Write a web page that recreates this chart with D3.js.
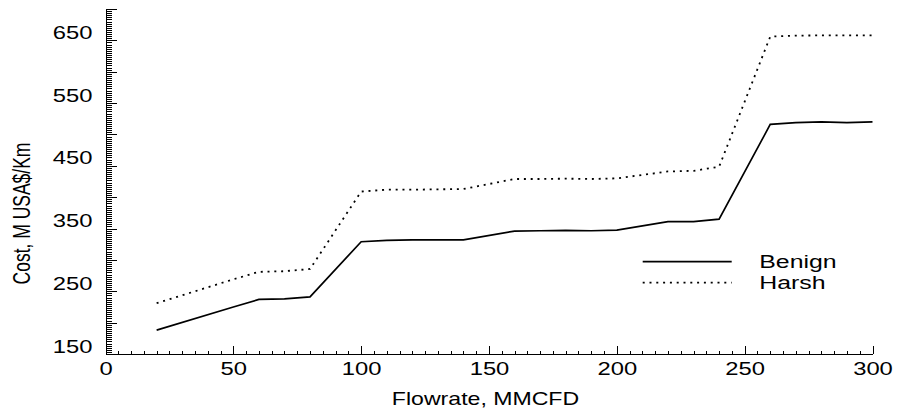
<!DOCTYPE html>
<html>
<head>
<meta charset="utf-8">
<script src="https://cdn.jsdelivr.net/npm/d3@7/dist/d3.min.js"></script>
<style>
  html, body { margin: 0; padding: 0; background: #fff; }
  svg { display: block; }
  text { font-family: "Liberation Sans", Arial, Helvetica, sans-serif; fill: #000; }
</style>
</head>
<body>
<svg id="chart" width="899" height="413"></svg>
<script>
// Pipeline cost versus flowrate, two environments
const flowrate = [20, 50, 60, 70, 80, 100, 110, 120, 130, 140, 160, 170, 180, 190, 200, 220, 230, 240, 260, 270, 280, 290, 300];
const benignCost = [188, 225, 237, 238, 241, 329, 331, 332, 332, 332, 346, 346.5, 347, 346.5, 347.5, 361, 361, 365, 516, 519, 520, 519, 520];
const harshCost  = [231, 269, 281, 282, 285.5, 409, 412, 412, 412.5, 413, 429, 429, 429.5, 429, 430, 441, 442, 448.5, 656, 657.5, 658, 658, 658];
const seriesNames = ["Benign", "Harsh"];
const xTickLabels = [0, 50, 100, 150, 200, 250, 300];
const yTickLabels = [150, 250, 350, 450, 550, 650];

const svg = d3.select("#chart");
const x = d3.scaleLinear().domain([0, 300]).range([105.5, 872.5]);
const y = d3.scaleLinear().domain([150, 700]).range([354, 9]);

// glyphs are drawn wide (horizontal stretch)
const STRETCH = 1.36;
const tickFont = 17.5;

// ---- x axis ----
const gx = svg.append("g").attr("transform", `translate(0,${y(150)})`);
gx.call(d3.axisBottom(x).tickValues(d3.range(0, 301, 5).filter(v => v % 50 !== 0))
  .tickSize(-3.5).tickFormat(""))
  .call(g => g.select(".domain").remove());
const gxMain = svg.append("g").attr("transform", `translate(0,${y(150)})`);
gxMain.call(d3.axisBottom(x).tickValues(xTickLabels).tickSize(-8.5).tickSizeOuter(0).tickFormat(d3.format("d")));
gxMain.selectAll(".tick text")
  .attr("y", 21).attr("dy", null)
  .attr("transform", `scale(${STRETCH},1)`)
  .style("font-size", tickFont + "px");

// ---- y axis ----
const yMinorVals = d3.range(0, 166).map(i => 150 + i * 10 / 3)
  .filter(v => v <= 700.01 && Math.abs(v / 50 - Math.round(v / 50)) > 1e-6);
const gyMinor = svg.append("g").attr("transform", `translate(${x(0)},0)`);
gyMinor.call(d3.axisLeft(y).tickValues(yMinorVals).tickSize(-6).tickFormat(""))
  .call(g => g.select(".domain").remove());
const gyMajor = svg.append("g").attr("transform", `translate(${x(0)},0)`);
gyMajor.call(d3.axisLeft(y).tickValues(d3.range(150, 701, 50)).tickSize(-11.5).tickSizeOuter(0).tickFormat(""));
const gyLab = svg.append("g").attr("transform", `translate(${x(0)},0)`);
gyLab.call(d3.axisLeft(y).tickValues(yTickLabels).tickSize(0).tickFormat(d3.format("d")))
  .call(g => g.select(".domain").remove());
gyLab.selectAll(".tick text")
  .attr("x", null).attr("dy", null)
  .attr("text-anchor", "end")
  .attr("transform", `translate(-13,-2) scale(${STRETCH},1)`)
  .style("font-size", tickFont + "px");

svg.selectAll(".domain, .tick line").attr("stroke", "#000").attr("stroke-width", 1)
  .attr("shape-rendering", "crispEdges");

// ---- axis titles ----
svg.append("text")
  .attr("text-anchor", "middle")
  .attr("transform", `translate(485.5,405) scale(1.32,1)`)
  .style("font-size", "17.5px")
  .text("Flowrate, MMCFD");
svg.append("text")
  .attr("text-anchor", "middle")
  .attr("transform", `translate(30,213.5) scale(1.35,1) rotate(-90)`)
  .style("font-size", "17.5px")
  .text("Cost, M USA$/Km");

// ---- series lines ----
const series = [
  { name: seriesNames[0], values: benignCost, dash: null, width: 1.7 },
  { name: seriesNames[1], values: harshCost, dash: "2 4.8", width: 1.8 }
];
const line = d3.line().x(d => x(d[0])).y(d => y(d[1]));
series.forEach(s => {
  svg.append("path")
    .datum(flowrate.map((f, i) => [f, s.values[i]]))
    .attr("fill", "none")
    .attr("stroke", "#000")
    .attr("stroke-width", s.width)
    .attr("stroke-linejoin", "miter")
    .attr("stroke-dasharray", s.dash)
    .attr("d", line);
});

// ---- legend ----
const legendY = [261.7, 282.7];
series.forEach((s, i) => {
  svg.append("line")
    .attr("x1", 642.7).attr("x2", 731.7)
    .attr("y1", legendY[i]).attr("y2", legendY[i])
    .attr("stroke", "#000").attr("stroke-width", s.width)
    .attr("stroke-dasharray", s.dash);
  svg.append("text")
    .attr("transform", `translate(759.3,${legendY[i] + 6.6}) scale(1.42,1)`)
    .style("font-size", "17.5px")
    .text(s.name);
});
</script>
</body>
</html>
